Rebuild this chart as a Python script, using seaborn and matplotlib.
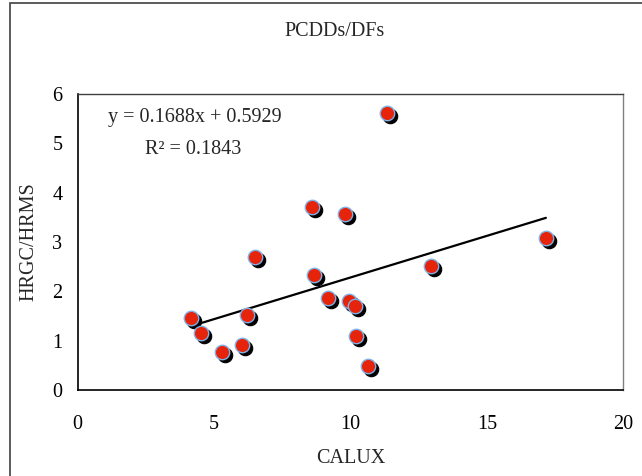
import matplotlib
matplotlib.use("Agg")
import matplotlib.pyplot as plt
import matplotlib.transforms as mtransforms
from matplotlib.patches import Rectangle
import pandas as pd
import seaborn as sns

# data
calux = [4.16, 4.53, 5.29, 6.02, 6.20, 6.51, 8.60, 8.66, 9.18, 9.79,
         9.96, 10.16, 10.20, 10.64, 11.34, 12.96, 17.16]
hrgc = [1.45, 1.15, 0.76, 0.91, 1.52, 2.70, 3.70, 2.33, 1.86, 3.56,
        1.80, 1.71, 1.10, 0.49, 5.61, 2.52, 3.09]
slope = 0.1688
intercept = 0.5929
r2 = 0.1843
x_ticks = [0, 5, 10, 15, 20]
y_ticks = [0, 1, 2, 3, 4, 5, 6]

df = pd.DataFrame({"CALUX": calux, "HRGC/HRMS": hrgc})
x_fit = [min(calux), max(calux)]
fit = pd.DataFrame({"x": x_fit, "y": [slope * v + intercept for v in x_fit]})

sns.set_theme(style="white")
plt.rcParams["font.family"] = ["Liberation Serif", "DejaVu Serif"]
FS = 14.5

fig = plt.figure(figsize=(6.42, 4.76), dpi=100)
ax = fig.add_axes([0.121, 0.1807, 0.850, 0.6218])

# black drop shadow, then the red markers on top
shadow = mtransforms.offset_copy(ax.transData, fig=fig, x=3, y=-3, units="dots")
sns.scatterplot(data=df, x="CALUX", y="HRGC/HRMS", color="black", s=108,
                edgecolor="black", linewidth=0.8, transform=shadow, ax=ax, zorder=3)
sns.scatterplot(data=df, x="CALUX", y="HRGC/HRMS", color="#e6240b", s=108,
                edgecolor="#7fb0e6", linewidth=1.0, ax=ax, zorder=4)
sns.lineplot(data=fit, x="x", y="y", color="black", linewidth=1.6, ax=ax, zorder=2)

ax.set_xlim(0, 20)
ax.set_ylim(0, 6)
ax.set_xticks(x_ticks)
ax.set_yticks(y_ticks)
ax.tick_params(direction="in", length=4, width=1, colors="black", labelsize=FS)
ax.tick_params(axis="x", pad=18)
ax.tick_params(axis="y", pad=11)

for side in ["left", "bottom"]:
    ax.spines[side].set_color("black")
    ax.spines[side].set_linewidth(1.2)
ax.spines["top"].set_color("#404040")
ax.spines["right"].set_color("#808080")
for side in ["top", "right"]:
    ax.spines[side].set_linewidth(1.0)

ax.set_xlabel("CALUX", fontsize=FS, va="center")
ax.set_ylabel("HRGC/HRMS", fontsize=FS, va="center")
ax.xaxis.set_label_coords(0.5, -0.23)
ax.yaxis.set_label_coords(-0.09, 0.5)

ax.text(1.1, 5.52, f"y = {slope}x + {intercept}", fontsize=FS, ha="left", va="center")
ax.text(2.46, 4.87, f"R² = {r2}", fontsize=FS, ha="left", va="center")

fig.text(335 / 642, 1 - 32 / 476, "PCDDs/DFs", fontsize=FS, ha="center", va="center")

# chart area frame (only left and top edges fall inside the image)
fig.add_artist(Rectangle((10 / 642, -0.2), 1.2, 1.2 - 3 / 476, transform=fig.transFigure,
                         fill=False, edgecolor="#404040", linewidth=1.2))

fig.savefig("out.png", dpi=100)
